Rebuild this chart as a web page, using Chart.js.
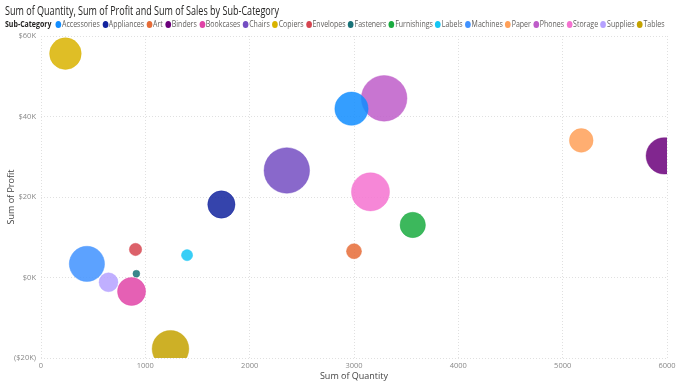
<!DOCTYPE html>
<html>
<head>
<meta charset="utf-8">
<script src="https://cdn.jsdelivr.net/npm/chart.js@4"></script>
<style>
  body { margin: 0; background: #fff; font-family: "Open Sans", sans-serif; }
  #wrap { position: relative; width: 698px; height: 390px; }
  #title { position: absolute; left: 5px; top: 2px; font-size: 12px; color: #252423; white-space: nowrap; transform-origin: 0 0; }
  #legend { position: absolute; left: 5px; top: 18px; font-size: 8.6px; color: #605E5C; white-space: nowrap; display: flex; align-items: center; transform-origin: 0 0; }
  #legend b { color: #252423; margin-right: 5px; font-weight: 700; }
  .item { display: flex; align-items: center; margin-right: 3px; }
  .dot { width: 7px; height: 7px; border-radius: 50%; margin-right: 1px; }
  canvas { position: absolute; left: 0; top: 0; }
</style>
</head>
<body>
<div id="wrap">
  <canvas id="bubbleChart" width="698" height="390"></canvas>
  <div id="title">Sum of Quantity, Sum of Profit and Sum of Sales by Sub-Category</div>
  <div id="legend"><b>Sub-Category</b></div>
</div>
<script>
let categories = ["Accessories", "Appliances", "Art", "Binders", "Bookcases", "Chairs", "Copiers", "Envelopes", "Fasteners", "Furnishings", "Labels", "Machines", "Paper", "Phones", "Storage", "Supplies", "Tables"];
let quantity = [2976, 1729, 3000, 5974, 868, 2356, 234, 906, 914, 3563, 1400, 440, 5178, 3289, 3158, 647, 1241];
let profit = [41937, 18138, 6528, 30222, -3473, 26590, 55618, 6964, 950, 13059, 5546, 3385, 34054, 44516, 21279, -1189, -17725];
let sales = [167380, 107532, 27119, 203413, 114880, 328449, 149528, 16476, 3024, 91705, 12486, 189239, 78479, 330007, 223844, 46674, 206966];
let colors = ["#118DFF", "#12239E", "#E66C37", "#6B007B", "#E044A7", "#744EC2", "#D9B300", "#D64550", "#197278", "#1AAB40", "#15C6F4", "#4092FF", "#FFA058", "#BE5DC9", "#F472D0", "#B5A1FF", "#C4A200"];
let xTicks = [0, 1000, 2000, 3000, 4000, 5000, 6000];
let yTicks = [-20000, 0, 20000, 40000, 60000];

function alpha(hex, a) {
    let n = parseInt(hex.slice(1), 16);
    return "rgba(" + (n >> 16) + "," + ((n >> 8) & 255) + "," + (n & 255) + "," + a + ")";
}

// squeeze a text block horizontally to the width it has in the reference
function fitWidth(el, target) {
    let w = el.getBoundingClientRect().width;
    el.style.transform = "scaleX(" + (target / w) + ")";
}

// legend
let legendDiv = document.getElementById("legend");
categories.forEach(function(cat, i) {
    legendDiv.innerHTML += '<span class="item"><span class="dot" style="background:' + colors[i] + '"></span>' + cat + '</span>';
});
fitWidth(document.getElementById("title"), 274);
fitWidth(legendDiv, 662);

// points drawn in reverse alphabetical order (matches overlap in reference)
let points = [];
let pointColors = [];
for (let i = categories.length - 1; i >= 0; i--) {
    points.push({ x: quantity[i], y: profit[i], sales: sales[i], label: categories[i] });
    pointColors.push(colors[i]);
}

function fmtMoney(v) {
    if (v < 0) return "($" + (-v / 1000) + "K)";
    return "$" + (v / 1000) + "K";
}

let ctx = document.getElementById("bubbleChart").getContext("2d");
let chart = new Chart(ctx, {
    type: "bubble",
    data: {
        datasets: [{
            label: "Sub-Category",
            data: points,
            backgroundColor: pointColors.map(c => alpha(c, 0.85)),
            borderColor: pointColors.map(c => alpha(c, 0.4)),
            borderWidth: 1,
            radius: function(c) {
                let s = c.raw.sales / 1000;
                return 1.4 + 1.18 * Math.sqrt(s);
            },
            clip: 0
        }]
    },
    options: {
        responsive: false,
        animation: false,
        layout: { padding: { top: 36, right: 31, left: 0, bottom: 0 } },
        plugins: {
            legend: { display: false },
            tooltip: { enabled: false }
        },
        scales: {
            x: {
                type: "linear",
                min: 0,
                max: 6000,
                afterFit: function(s) { s.height = 32; },
                afterBuildTicks: function(s) { s.ticks = xTicks.map(v => ({ value: v })); },
                ticks: { color: "#888", font: { family: "Open Sans", size: 7.5 }, padding: 3, maxRotation: 0, callback: v => String(v) },
                grid: { color: "#e0e0e0", drawTicks: false },
                border: { display: false, dash: [1, 2] },
                title: { display: true, text: "Sum of Quantity", color: "#444", font: { family: "Open Sans", size: 9 }, padding: { top: 0, bottom: 8 } }
            },
            y: {
                type: "linear",
                min: -20000,
                max: 60000,
                afterFit: function(s) { s.width = 41; },
                afterBuildTicks: function(s) { s.ticks = yTicks.map(v => ({ value: v })); },
                ticks: { color: "#888", font: { family: "Open Sans", size: 7.5 }, padding: 5, callback: fmtMoney },
                grid: { color: "#e0e0e0", drawTicks: false },
                border: { display: false, dash: [1, 2] },
                title: { display: true, text: "Sum of Profit", color: "#444", font: { family: "Open Sans", size: 9 }, padding: { top: 6, bottom: 0 } }
            }
        }
    }
});
</script>
</body>
</html>
